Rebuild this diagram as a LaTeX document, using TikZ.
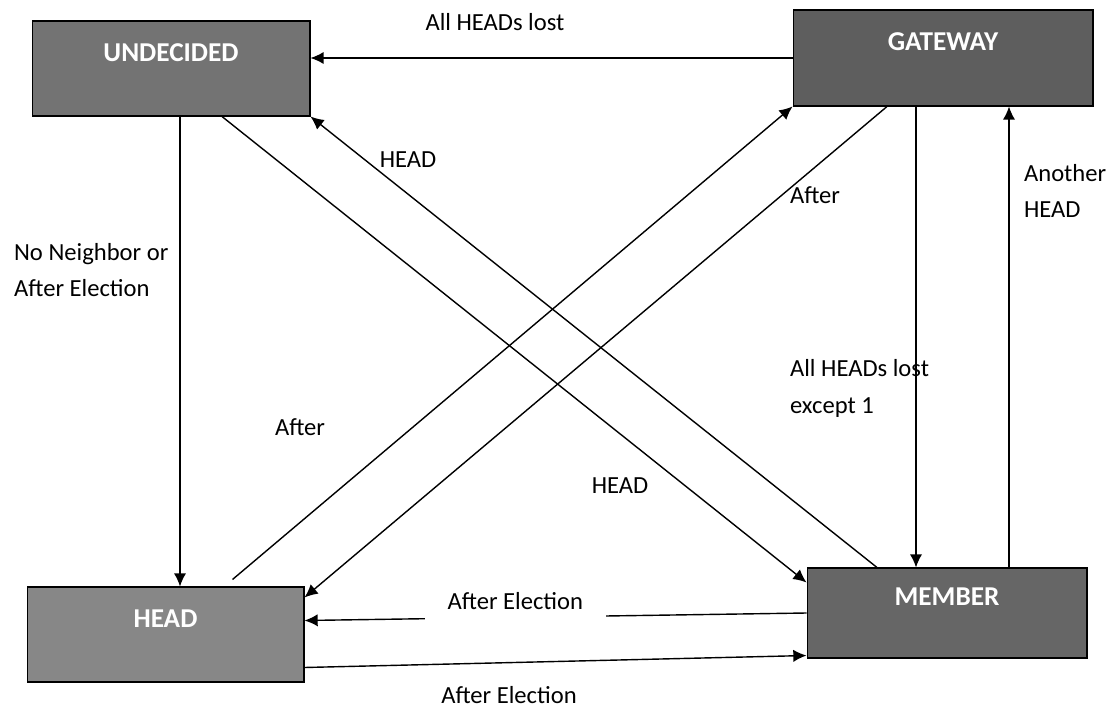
\documentclass[tikz,border=0pt]{standalone}
\usepackage{fontspec}
\setmainfont{Carlito}
\usetikzlibrary{arrows.meta, positioning, calc}

\begin{document}
\begin{tikzpicture}[x=0.02cm, y=-0.02cm,
  state/.style={draw=black, line width=0.6pt, rectangle, text=white,
    font=\fontsize{15.5}{18}\selectfont\bfseries,
    text height=0.4cm, text depth=0.69cm},
  lbl/.style={font=\fontsize{14}{21}\selectfont, align=left, inner sep=1pt},
  gaplbl/.style={lbl, fill=white, inner xsep=0.45cm, inner ysep=8pt, yshift=9pt},
  arr/.style={-{Latex[length=7.5pt,width=7pt]}, line width=0.8pt}]
  \useasboundingbox (0,0) rectangle (1109,713);

  % states
  \node[state, fill=black!55, minimum width=5.56cm, minimum height=1.9cm] (und) at (171,68.5) {UNDECIDED};
  \node[state, fill=black!63, minimum width=6cm, minimum height=1.92cm] (gw) at (943,58) {GATEWAY};
  \node[state, fill=black!47, minimum width=5.54cm, minimum height=1.9cm] (head) at (165.5,634.5) {HEAD};
  \node[state, fill=black!60, minimum width=5.6cm, minimum height=1.8cm] (mem) at (947,613) {MEMBER};

  % transitions
  \draw[arr] (gw.west) -- (gw.west -| und.east);
  \draw[arr] ($(und.south)+(9,0)$) -- ($(und.south |- head.north)+(9,0)$);
  \draw[arr] ($(mem.north)+(-70,0)$) -- (und.south east);
  \draw[arr] ($(und.south)+(51,0)$) -- ($(mem.north west)+(0,15)$);
  \draw[arr] ($(head.north)+(67,-7)$) -- (gw.south west);
  \draw[arr] ($(gw.south)+(-56,0)$) -- ($(head.north east)+(0,11)$);
  \draw[arr] ($(gw.south)+(-27,0)$) -- ($(gw.south |- mem.north)+(-27,0)$);
  \draw[arr] ($(gw.south |- mem.north)+(66,0)$) -- ($(gw.south)+(66,0)$);
  \draw[arr] (mem.west) -- ($(head.east)+(0,-14)$)
    node[gaplbl, pos=0.58] (elecup) {After Election};
  \draw[arr] ($(head.east)+(0,33)$) -- ($(mem.south west)+(0,-3)$);

  % labels
  \node[lbl] (lostall) at (495,22) {All HEADs lost};
  \node[lbl, anchor=west] (noneigh) at (12,270) {No Neighbor or\\After Election};
  \node[lbl] (headup) at (408,160) {HEAD};
  \node[lbl] (afterup) at (815,195) {After};
  \node[lbl] (afterlow) at (300,427) {After};
  \node[lbl] (headlow) at (620,486) {HEAD};
  \node[lbl, anchor=west] (except) at (788,388) {All HEADs lost\\except 1};
  \node[lbl, anchor=west] (another) at (1022,191) {Another\\HEAD};
  \node[lbl] (eleclow) at (509,695) {After Election};
\end{tikzpicture}
\end{document}
